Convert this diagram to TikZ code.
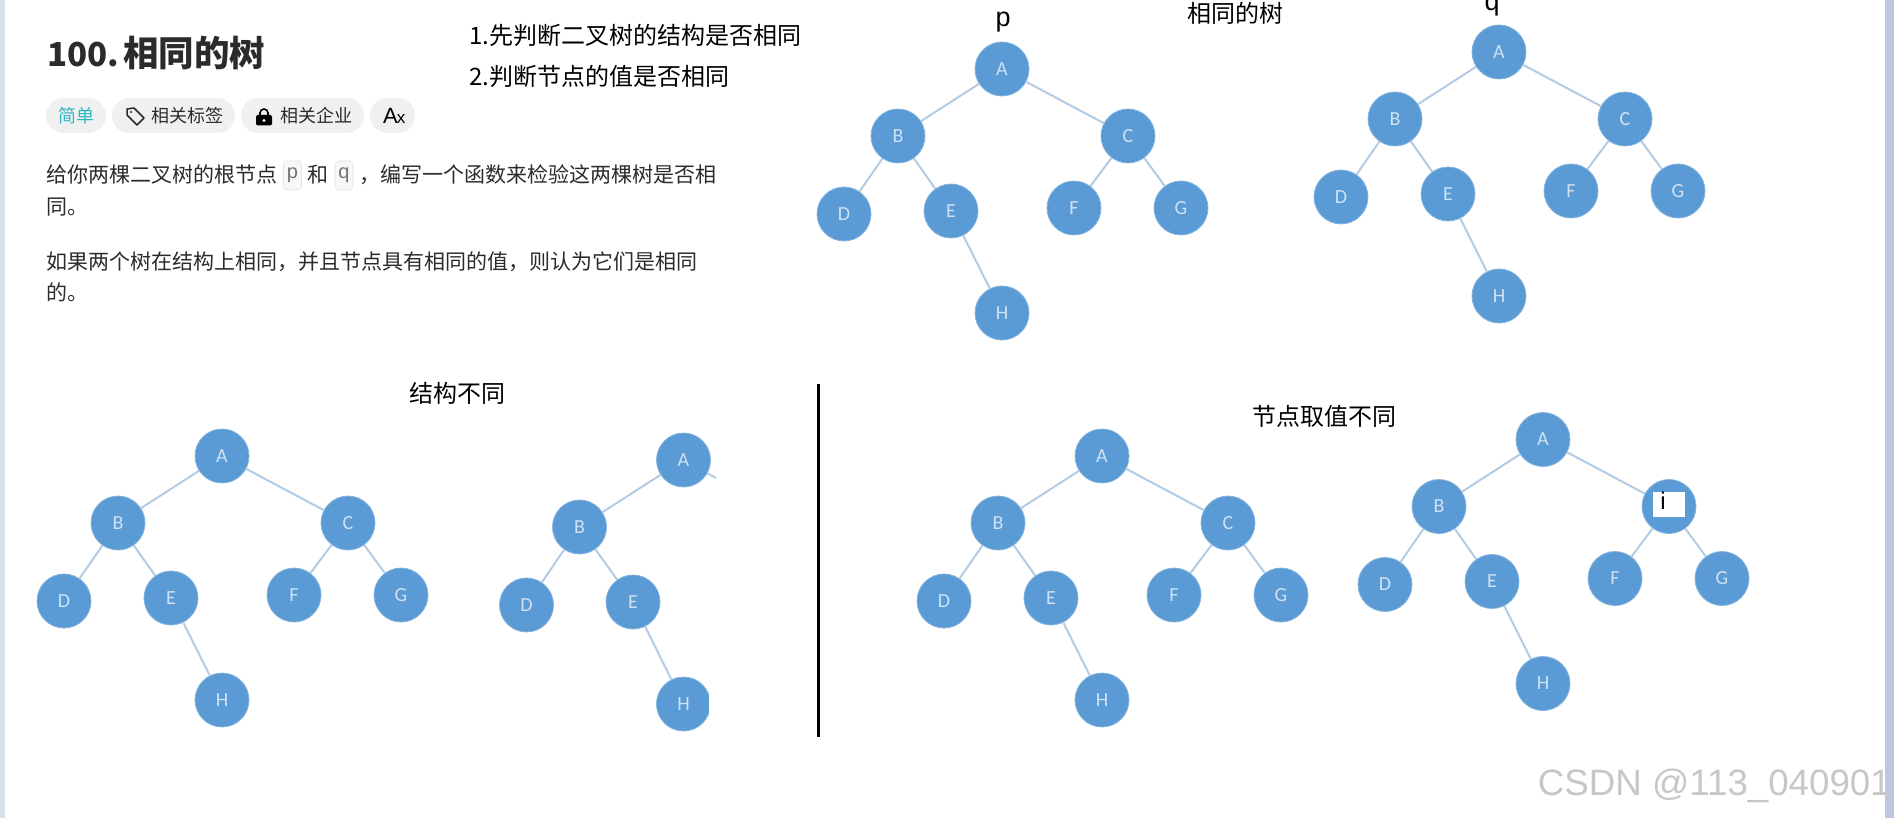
\documentclass[tikz,border=0pt]{standalone}
\usepackage{fontspec}
\setmainfont{Noto Sans CJK SC}
\newfontfamily\arialfont{Liberation Sans}
\newfontfamily\labelfont{Carlito}
\definecolor{nodeblue}{HTML}{5B9BD5}
\definecolor{edgeblue}{HTML}{B3CCE3}
\definecolor{letterblue}{HTML}{CFE2F3}
\definecolor{pillgrey}{HTML}{F0F0F0}
\definecolor{bodytext}{HTML}{2B2B2B}
\definecolor{leftedge}{HTML}{D6E1F0}
\definecolor{rightedge}{HTML}{BCC8DE}
\definecolor{easyteal}{HTML}{2DB7C0}
\tikzset{
    treenode/.style={circle, fill=nodeblue, draw=nodeblue!75!white, line width=0.8pt, minimum size=54pt, inner sep=0pt, text=letterblue, font=\labelfont\fontsize{20}{20}\selectfont},
    treeedge/.style={edgeblue, line width=2pt},
    pill/.style={rounded corners=17.5pt, fill=pillgrey, draw=none},
    pilltext/.style={anchor=west, inner sep=0pt, text=bodytext, font=\fontsize{18}{18}\selectfont},
    bodyline/.style={anchor=west, inner sep=0pt, text height=18pt, text depth=3pt, text=bodytext, font=\fontsize{21}{21}\selectfont},
    notetext/.style={anchor=west, inner sep=0pt, text=black, font=\fontsize{24}{24}\selectfont},
    rootlabel/.style={inner sep=0pt, text=black, font=\arialfont\fontsize{27}{27}\selectfont},
    codebox/.style={rounded corners=4pt, fill=black!3, draw=black!10, line width=0.7pt, minimum width=18pt, minimum height=29pt, inner sep=0pt, text=black!55, font=\arialfont\fontsize{20}{20}\selectfont}
}
\begin{document}
\begin{tikzpicture}[x=1pt, y=-1pt]
    \useasboundingbox (0,0) rectangle (1894,818);
    \fill[white] (0,0) rectangle (1894,818);
    % window edges
    \fill[leftedge] (0,0) rectangle (5,818);
    \fill[rightedge] (1885,0) rectangle (1894,818);
    % problem text
    \node[anchor=west, inner sep=0pt, text=bodytext, font=\bfseries\fontsize{35.5}{36}\selectfont] (title) at (47,53) {{\fontsize{33}{33}\selectfont 100.}\kern4pt 相同的树};
    \node[notetext] (noteone) at (469,35) {1.先判断二叉树的结构是否相同};
    \node[notetext] (notetwo) at (469,76) {2.判断节点的值是否相同};
    % tags
    \fill[pill] (46,98) rectangle (106,133);
    \fill[pill] (112,98) rectangle (235,133);
    \fill[pill] (241,98) rectangle (364,133);
    \fill[pill] (370,98) rectangle (415,133);
    \node[pilltext, text=easyteal] (easytag) at (58,115.5) {简单};
    \draw[bodytext, line width=1.5pt, line join=round] (127,109) -- (134,108) -- (144,118) -- (137,125) -- (127,115) -- cycle;
    \fill[bodytext] (131,112) circle (1.2pt);
    \node[pilltext] (topictag) at (151,115.5) {相关标签};
    \draw[black, line width=1.6pt] (260,116) -- (260,113) arc[start angle=180, end angle=0, radius=4pt] -- (268,116);
    \fill[black, rounded corners=2pt] (256,115) rectangle (272,125.5);
    \fill[white] (264,120.5) circle (1.6pt);
    \node[pilltext] (companytag) at (280,115.5) {相关企业};
    \node[pilltext, text=black, font=\arialfont\fontsize{22}{22}\selectfont] (fonttag) at (383,115.5) {A\kern-1pt\fontsize{17}{17}\selectfont x};
    % description
    \node[bodyline] (lineone) at (46,175) {给你两棵二叉树的根节点};
    \node[codebox] (pbox) at (292.5,175.5) {p};
    \node[bodyline] (lineonea) at (307,175) {和};
    \node[codebox] (qbox) at (344,175.5) {q};
    \node[bodyline] (lineoneb) at (359,175) {，};
    \node[bodyline] (lineonec) at (380,175) {编写一个函数来检验这两棵树是否相};
    \node[bodyline] (linetwo) at (46,207) {同。};
    \node[bodyline] (linethree) at (46,262) {如果两个树在结构上相同，并且节点具有相同的值，则认为它们是相同};
    \node[bodyline] (linefour) at (46,293) {的。};
    % captions
    \node[notetext, anchor=center] (samecap) at (1235.5,13) {相同的树};
    \node[notetext, anchor=center] (shapecap) at (457,393) {结构不同};
    \node[notetext, anchor=center] (valuecap) at (1324,416) {节点取值不同};
    \node[rootlabel, anchor=base] (plabel) at (1003,27) {p};
    \node[rootlabel, anchor=base] (qlabel) at (1492,11) {q};
    % the trees
    \foreach \tree/\tx/\ty/\cname in {p/1002/69/C, q/1499/52/C, s/222/456/C, t/1102/456/C, v/1543/439.5/{}} {
        \node[treenode] (\tree A) at (\tx,\ty) {A};
        \node[treenode] (\tree B) at (\tx-104,\ty+67) {B};
        \node[treenode] (\tree C) at (\tx+126,\ty+67) {\cname};
        \node[treenode] (\tree D) at (\tx-158,\ty+145) {D};
        \node[treenode] (\tree E) at (\tx-51,\ty+142) {E};
        \node[treenode] (\tree F) at (\tx+72,\ty+139) {F};
        \node[treenode] (\tree G) at (\tx+179,\ty+139) {G};
        \node[treenode] (\tree H) at (\tx,\ty+244) {H};
        \draw[treeedge] (\tree A) -- (\tree B);
        \draw[treeedge] (\tree A) -- (\tree C);
        \draw[treeedge] (\tree B) -- (\tree D);
        \draw[treeedge] (\tree B) -- (\tree E);
        \draw[treeedge] (\tree C) -- (\tree F);
        \draw[treeedge] (\tree C) -- (\tree G);
        \draw[treeedge] (\tree E) -- (\tree H);
    }
    % cut off tree
    \node[treenode] (uA) at (683.5,460) {A};
    \node[treenode] (uB) at (579.5,527) {B};
    \node[treenode] (uD) at (526.5,605) {D};
    \node[treenode] (uE) at (633,602) {E};
    \node[treenode] (uH) at (683.5,704) {H};
    \coordinate (uC) at (716,478);
    \draw[treeedge] (uA) -- (uB);
    \draw[treeedge] (uA) -- (uC);
    \draw[treeedge] (uB) -- (uD);
    \draw[treeedge] (uB) -- (uE);
    \draw[treeedge] (uE) -- (uH);
    \fill[white] (709,670) rectangle (740,740);
    % changed value
    \fill[white] (1653,492) rectangle (1685,517);
    \node[rootlabel, anchor=base, font=\arialfont\fontsize{24}{24}\selectfont] (ilabel) at (1663,509) {i};
    % divider
    \coordinate (dividertop) at (818,384);
    \coordinate (dividerbottom) at (818,737);
    \draw[black, line width=3pt] (dividertop) -- (dividerbottom);
    % watermark
    \node[anchor=east, inner sep=0pt, text=black!22, font=\arialfont\fontsize{36.7}{37}\selectfont] (mark) at (1891,786) {CSDN @113\_040901};
\end{tikzpicture}
\end{document}
